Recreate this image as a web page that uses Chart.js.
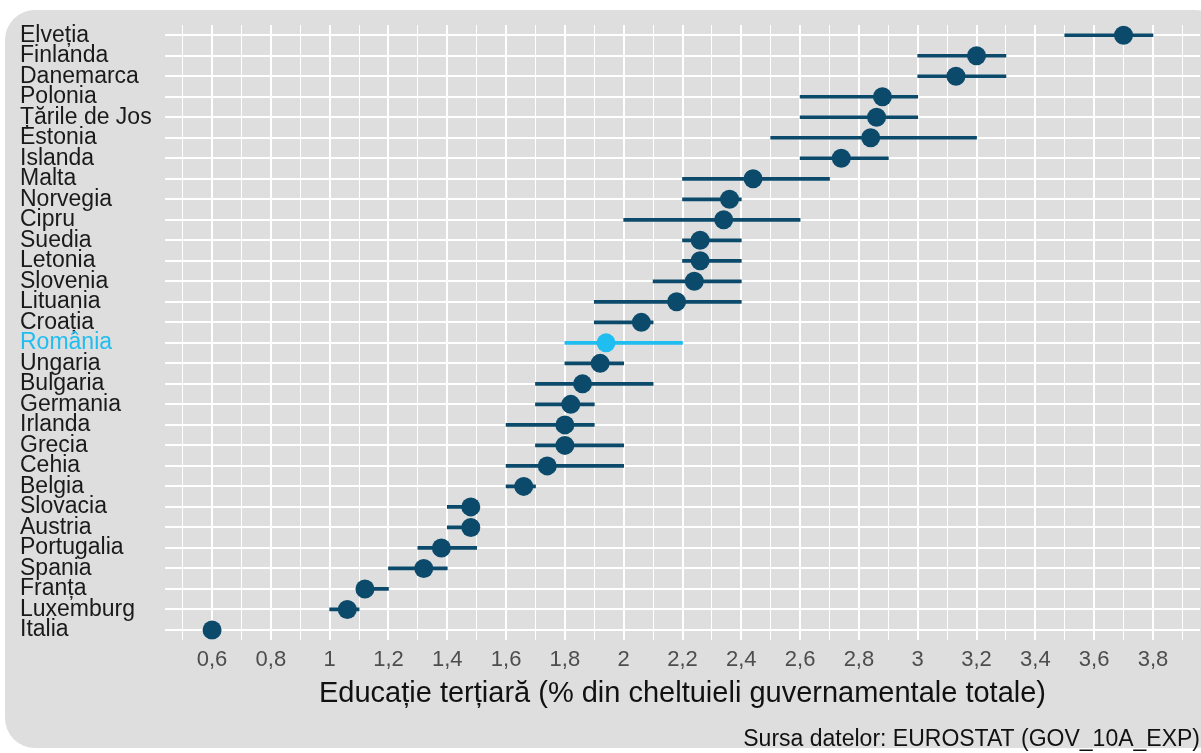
<!DOCTYPE html>
<html>
<head>
<meta charset="utf-8">
<script src="https://cdn.jsdelivr.net/npm/chart.js@4"></script>
<style>
    body { margin: 0; background: #ffffff; overflow: hidden; }
    #panel {
        position: absolute; left: 5px; top: 10px; width: 1220px; height: 738px;
        background: #dedede; border-radius: 30px;
    }
    #wrap { position: absolute; left: 0; top: 0; width: 1201px; height: 753px; }
</style>
</head>
<body>
<div id="panel"></div>
<div id="wrap"><canvas id="eduChart" width="1201" height="753"></canvas></div>
<script>
const countries = ['Elveția', 'Finlanda', 'Danemarca', 'Polonia', 'Țările de Jos', 'Estonia', 'Islanda',
    'Malta', 'Norvegia', 'Cipru', 'Suedia', 'Letonia', 'Slovenia', 'Lituania', 'Croația', 'România',
    'Ungaria', 'Bulgaria', 'Germania', 'Irlanda', 'Grecia', 'Cehia', 'Belgia', 'Slovacia', 'Austria',
    'Portugalia', 'Spania', 'Franța', 'Luxemburg', 'Italia'];

// value shown by the dot, plus min / max of the range line
const values   = [3.7, 3.2, 3.13, 2.88, 2.86, 2.84, 2.74, 2.44, 2.36, 2.34, 2.26, 2.26, 2.24, 2.18, 2.06, 1.94,
    1.92, 1.86, 1.82, 1.8, 1.8, 1.74, 1.66, 1.48, 1.48, 1.38, 1.32, 1.12, 1.06, 0.6];
const rangeMin = [3.5, 3.0, 3.0, 2.6, 2.6, 2.5, 2.6, 2.2, 2.2, 2.0, 2.2, 2.2, 2.1, 1.9, 1.9, 1.8,
    1.8, 1.7, 1.7, 1.6, 1.7, 1.6, 1.6, 1.4, 1.4, 1.3, 1.2, 1.1, 1.0, 0.6];
const rangeMax = [3.8, 3.3, 3.3, 3.0, 3.0, 3.2, 2.9, 2.7, 2.4, 2.6, 2.4, 2.4, 2.4, 2.4, 2.1, 2.2,
    2.0, 2.1, 1.9, 1.9, 2.0, 2.0, 1.7, 1.5, 1.5, 1.5, 1.4, 1.2, 1.1, 0.6];

const highlight = 'România';
const darkBlue = '#0b4a6b';
const lightBlue = '#1fbdf0';
const colorFor = name => name === highlight ? lightBlue : darkBlue;

const xMin = 0.44, xMax = 3.96;

new Chart(document.getElementById('eduChart').getContext('2d'), {
    data: {
        labels: countries,
        datasets: [
            {
                type: 'scatter',
                data: countries.map((c, i) => ({ x: values[i], y: c })),
                backgroundColor: countries.map(colorFor),
                borderWidth: 0,
                pointRadius: 9.5,
                order: 0
            },
            {
                type: 'bar',
                data: countries.map((c, i) => [rangeMin[i], rangeMax[i]]),
                backgroundColor: countries.map(colorFor),
                barThickness: 3,
                borderWidth: 0,
                order: 1
            }
        ]
    },
    options: {
        indexAxis: 'y',
        responsive: false,
        animation: false,
        layout: { autoPadding: false, padding: { left: 20, right: 1, top: 25, bottom: 0 } },
        scales: {
            x: {
                type: 'linear',
                min: xMin,
                max: xMax,
                afterBuildTicks: scale => {
                    const t = [];
                    for (let k = 5; k <= 39; k++) t.push({ value: k / 10 });
                    scale.ticks = t;
                },
                afterFit: scale => { scale.paddingLeft = 0; scale.paddingRight = 0; },
                ticks: {
                    autoSkip: false,
                    maxRotation: 0,
                    padding: 7,
                    color: '#4d4d4d',
                    font: { family: 'Liberation Sans', size: 22 },
                    callback: v => {
                        const k = Math.round(v * 10);
                        return k % 2 === 0 ? String(k / 10).replace('.', ',') : '';
                    }
                },
                grid: {
                    color: '#ffffff',
                    lineWidth: ctx => (ctx.tick && Math.round(ctx.tick.value * 10) % 2 === 0) ? 2 : 1,
                    drawTicks: false
                },
                border: { display: false },
                title: {
                    display: true,
                    text: 'Educație terțiară (% din cheltuieli guvernamentale totale)',
                    color: '#111111',
                    font: { family: 'Liberation Sans', size: 29 },
                    padding: { top: -4, bottom: 0 }
                }
            },
            y: {
                type: 'category',
                offset: true,
                afterFit: scale => { scale.width = 145; scale.paddingTop = 0; scale.paddingBottom = 0; },
                ticks: {
                    crossAlign: 'far',
                    padding: 0,
                    autoSkip: false,
                    color: ctx => countries[ctx.index] === highlight ? lightBlue : '#1a1a1a',
                    font: { family: 'Liberation Sans', size: 23 }
                },
                grid: {
                    color: '#ffffff',
                    lineWidth: 2,
                    offset: false,
                    drawTicks: false
                },
                border: { display: false }
            }
        },
        plugins: {
            legend: { display: false },
            tooltip: { enabled: false },
            title: {
                display: true,
                position: 'bottom',
                align: 'end',
                text: 'Sursa datelor: EUROSTAT (GOV_10A_EXP)',
                color: '#111111',
                font: { family: 'Liberation Sans', size: 23, weight: 'normal' },
                padding: { top: 14, bottom: 0 }
            }
        }
    }
});
</script>
</body>
</html>
